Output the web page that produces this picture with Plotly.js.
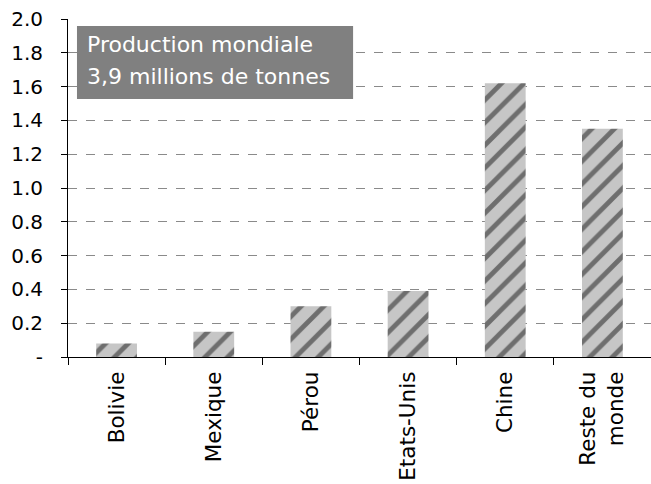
<!DOCTYPE html>
<html><head><meta charset="utf-8">
<script src="https://cdn.plot.ly/plotly-3.0.1.min.js"></script>
<style>body{margin:0;background:#fff}#c{width:651px;height:484px}</style>
</head><body><div id="c"></div>
<script>
const categories = ["Bolivie", "Mexique", "Pérou", "Etats-Unis", "Chine", "Reste du<br>monde"];
const values = [0.08, 0.15, 0.30, 0.39, 1.62, 1.35];
const yTickVals = [0, 0.2, 0.4, 0.6, 0.8, 1.0, 1.2, 1.4, 1.6, 1.8, 2.0];
const yTickText = ["-", "0.2", "0.4", "0.6", "0.8", "1.0", "1.2", "1.4", "1.6", "1.8", "2.0"];
const boxLines = ["Production mondiale", "3,9 millions de tonnes"];

const trace = {
  type: "bar", x: categories, y: values, width: 0.42,
  marker: {color: "#b8b8b8", line: {width: 0},
    pattern: {shape: "/", fgcolor: "#6e6e6e", bgcolor: "#c6c6c6", size: 16, solidity: 0.3}},
  hoverinfo: "skip"
};
const layout = {
  width: 651, height: 484, margin: {l: 68, r: 0, t: 19, b: 127},
  paper_bgcolor: "#fff", plot_bgcolor: "#fff", showlegend: false,
  font: {family: "DejaVu Sans", color: "#000"},
  xaxis: {type: "category", showline: true, linecolor: "#000", linewidth: 1,
    ticks: "outside", tickson: "boundaries", ticklen: 7, tickcolor: "#000",
    tickangle: -90, tickfont: {family: "DejaVu Sans", size: 21.5}, showgrid: false,
    ticklabelstandoff: 5},
  yaxis: {range: [0, 2.0], tickvals: yTickVals, ticktext: yTickText,
    showline: true, linecolor: "#000", linewidth: 1, ticks: "outside", ticklen: 6, tickcolor: "#000",
    tickfont: {family: "DejaVu Sans", size: 20}, showgrid: true, gridcolor: "#8a8a8a",
    griddash: "dash", gridwidth: 1, zeroline: false, ticklabelstandoff: 14},
  shapes: [{type: "rect", xref: "paper", yref: "paper", x0: 0.0154, x1: 0.489, y0: 0.763, y1: 0.979,
    fillcolor: "#808080", line: {width: 0}, layer: "above"}],
  annotations: boxLines.map((t, i) => ({
    text: t, xref: "paper", yref: "paper", x: 0.029, y: (357 - (45 + i * 31)) / 338,
    xanchor: "left", yanchor: "middle", showarrow: false,
    font: {family: "DejaVu Sans", size: 22, color: "#fff"}}))
};
Plotly.newPlot("c", [trace], layout, {staticPlot: true});
</script></body></html>
